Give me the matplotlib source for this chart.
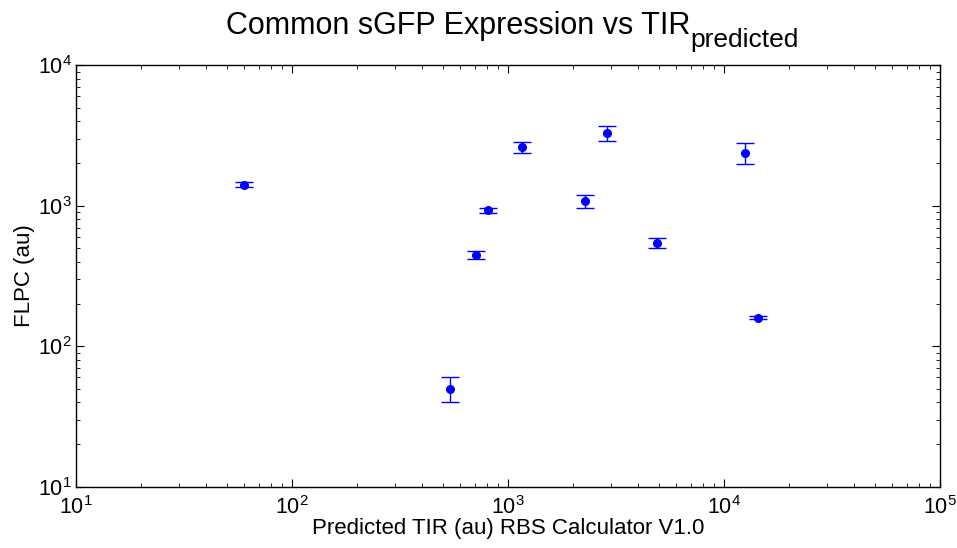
import matplotlib
matplotlib.use("Agg")
import matplotlib.pyplot as plt
from matplotlib.ticker import LogLocator

plt.rcParams['font.family'] = ['Liberation Sans', 'DejaVu Sans']
plt.rcParams['mathtext.fontset'] = 'custom'
plt.rcParams['mathtext.rm'] = 'Liberation Sans'
plt.rcParams['mathtext.it'] = 'Liberation Sans:italic'

# predicted TIR (au) and measured FLPC (au) with errors
tir = [60, 538, 708, 811, 1164, 2270, 2864, 4898, 12560, 14420]
flpc = [1410, 50, 445, 930, 2610, 1075, 3300, 544, 2390, 160]
flpc_err = [60, 10, 30, 40, 235, 115, 400, 43, 420, 5]

W, H = 957, 548
fig = plt.figure(figsize=(W/100, H/100), dpi=100)
ax = fig.add_axes([76/W, 1 - 486.7/H, 864/W, 421.4/H])

ax.errorbar(tir, flpc, yerr=flpc_err, fmt='o', color='#0000ff', ecolor='#0000ff',
            markersize=5.5, elinewidth=1, capsize=6.5, capthick=1)

ax.set_xscale('log')
ax.set_yscale('log')
ax.set_xlim(10, 1e5)
ax.set_ylim(10, 1e4)
ax.xaxis.set_minor_locator(LogLocator(base=10, subs=range(2, 10)))
ax.yaxis.set_minor_locator(LogLocator(base=10, subs=range(2, 10)))
ax.tick_params(which='both', direction='in', top=True, right=True, labelsize=15.5)
ax.tick_params(which='major', length=6)
ax.tick_params(which='minor', length=3)
ax.tick_params(axis='x', which='both', pad=7)
ax.tick_params(axis='y', which='both', pad=3)
for s in ax.spines.values():
    s.set_linewidth(1)

ax.set_xlabel('Predicted TIR (au) RBS Calculator V1.0', fontsize=16, labelpad=-1)
ax.set_ylabel('FLPC (au)', fontsize=16, labelpad=2)

# title with a large subscript, centred over the axes
r = fig.canvas.get_renderer()
t1 = fig.text(0, 1 - 34/H, 'Common sGFP Expression vs TIR', fontsize=22, va='baseline', ha='left')
t2 = fig.text(0, 1 - 47/H, 'predicted', fontsize=19, va='baseline', ha='left')
w1 = t1.get_window_extent(r).width
w2 = t2.get_window_extent(r).width
x0 = 512 - (w1 + w2) / 2
t1.set_x(x0 / W)
t2.set_x((x0 + w1) / W)

fig.savefig('out.png', dpi=100)
